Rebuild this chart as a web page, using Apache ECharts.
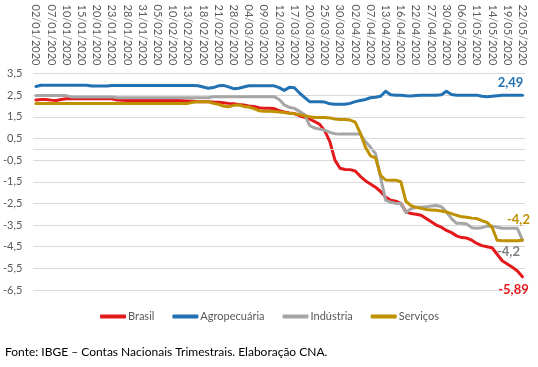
<!DOCTYPE html>
<html>
<head>
<meta charset="utf-8">
<script src="https://cdn.jsdelivr.net/npm/echarts@6/dist/echarts.min.js"></script>
<style>
html,body{margin:0;padding:0;background:#fff;}
#chart{width:538px;height:367px;}
</style>
</head>
<body>
<div id="chart"></div>
<script>
const categories = ['02/01/2020','03/01/2020','06/01/2020','07/01/2020','08/01/2020','09/01/2020','10/01/2020','13/01/2020','14/01/2020','15/01/2020','16/01/2020','17/01/2020','20/01/2020','21/01/2020','22/01/2020','23/01/2020','24/01/2020','27/01/2020','28/01/2020','29/01/2020','30/01/2020','31/01/2020',
'03/02/2020','04/02/2020','05/02/2020','06/02/2020','07/02/2020','10/02/2020','11/02/2020','12/02/2020','13/02/2020','14/02/2020','17/02/2020','18/02/2020','19/02/2020','20/02/2020','21/02/2020','26/02/2020','27/02/2020','28/02/2020',
'02/03/2020','03/03/2020','04/03/2020','05/03/2020','06/03/2020','09/03/2020','10/03/2020','11/03/2020','12/03/2020','13/03/2020','16/03/2020','17/03/2020','18/03/2020','19/03/2020','20/03/2020','23/03/2020','24/03/2020','25/03/2020','26/03/2020','27/03/2020','30/03/2020','31/03/2020',
'01/04/2020','02/04/2020','03/04/2020','06/04/2020','07/04/2020','08/04/2020','09/04/2020','13/04/2020','14/04/2020','15/04/2020','16/04/2020','17/04/2020','20/04/2020','22/04/2020','23/04/2020','24/04/2020','27/04/2020','28/04/2020','29/04/2020','30/04/2020',
'04/05/2020','05/05/2020','06/05/2020','07/05/2020','08/05/2020','11/05/2020','12/05/2020','13/05/2020','14/05/2020','15/05/2020','18/05/2020','19/05/2020','20/05/2020','21/05/2020','22/05/2020'];

const brasil = [2.28,2.3,2.3,2.27,2.25,2.3,2.33,2.33,2.33,2.33,
2.33,2.33,2.33,2.33,2.33,2.33,2.28,2.26,2.25,2.25,
2.25,2.25,2.25,2.25,2.25,2.25,2.25,2.25,2.25,2.24,
2.23,2.22,2.2,2.2,2.2,2.18,2.17,2.15,2.12,2.1,
2.07,2.05,2.0,1.98,1.92,1.9,1.9,1.88,1.78,1.72,
1.68,1.65,1.55,1.48,1.4,1.28,1.15,0.85,0.35,-0.5,
-0.88,-0.93,-0.94,-1.0,-1.25,-1.45,-1.6,-1.75,-1.95,-2.2,
-2.35,-2.4,-2.5,-2.88,-2.97,-3.0,-3.05,-3.2,-3.35,-3.5,
-3.6,-3.75,-3.85,-4.0,-4.08,-4.1,-4.2,-4.35,-4.45,-4.5,
-4.55,-4.85,-5.15,-5.3,-5.45,-5.62,-5.89];

const agro = [2.9,2.96,2.96,2.96,2.96,2.96,2.96,2.96,2.96,2.96,
2.96,2.92,2.92,2.92,2.92,2.95,2.95,2.95,2.95,2.95,
2.95,2.95,2.95,2.95,2.95,2.95,2.95,2.95,2.95,2.95,
2.95,2.95,2.93,2.88,2.82,2.85,2.93,2.95,2.88,2.8,
2.82,2.88,2.93,2.93,2.93,2.93,2.93,2.93,2.85,2.72,
2.86,2.84,2.6,2.4,2.2,2.2,2.2,2.18,2.1,2.08,
2.08,2.08,2.12,2.2,2.25,2.3,2.38,2.4,2.45,2.68,
2.52,2.5,2.5,2.47,2.46,2.48,2.5,2.5,2.5,2.5,
2.52,2.68,2.53,2.5,2.5,2.5,2.5,2.5,2.45,2.43,
2.45,2.47,2.49,2.49,2.49,2.49,2.49];

const industria = [2.48,2.48,2.48,2.48,2.48,2.48,2.48,2.42,2.42,2.42,
2.42,2.42,2.42,2.42,2.42,2.42,2.38,2.38,2.38,2.38,
2.38,2.38,2.38,2.38,2.38,2.38,2.38,2.38,2.38,2.38,
2.38,2.38,2.38,2.38,2.38,2.43,2.43,2.43,2.43,2.43,
2.43,2.43,2.43,2.43,2.43,2.43,2.43,2.43,2.3,2.05,
1.94,1.89,1.75,1.6,1.1,0.98,0.93,0.88,0.78,0.72,
0.7,0.7,0.7,0.7,0.7,0.36,0.1,-0.2,-1.3,-2.35,
-2.45,-2.5,-2.5,-2.92,-2.75,-2.68,-2.68,-2.66,-2.62,-2.6,
-2.65,-2.9,-3.2,-3.42,-3.42,-3.45,-3.62,-3.65,-3.62,-3.55,
-3.55,-3.6,-3.65,-3.65,-3.65,-3.65,-4.2];

const servicos = [2.12,2.12,2.12,2.12,2.12,2.12,2.12,2.12,2.12,2.12,
2.12,2.12,2.12,2.12,2.12,2.12,2.12,2.12,2.12,2.12,
2.12,2.12,2.12,2.12,2.12,2.12,2.12,2.12,2.12,2.12,
2.12,2.17,2.2,2.2,2.2,2.12,2.08,2.0,1.96,2.03,
2.05,1.98,1.95,1.88,1.78,1.76,1.76,1.75,1.72,1.7,
1.66,1.64,1.6,1.55,1.5,1.47,1.47,1.47,1.45,1.4,
1.38,1.38,1.35,1.25,0.75,0.1,-0.3,-0.4,-1.2,-1.42,
-1.43,-1.43,-1.5,-2.4,-2.6,-2.68,-2.73,-2.78,-2.8,-2.82,
-2.85,-2.9,-2.97,-3.05,-3.12,-3.14,-3.18,-3.2,-3.3,-3.38,
-3.6,-4.2,-4.22,-4.22,-4.22,-4.22,-4.2];

const seriesNames = ['Brasil','Agropecuária','Indústria','Serviços'];
const endLabels = ['-5,89','2,49','-4,2','-4,2'];
const yTicks = {min:-6.5, max:3.5, step:1};

const colors = ['#E3191C','#2271B3','#A6A6A6','#BF9000'];
const labelColors = ['#E3191C','#2271B3','#7F7F7F','#BF9000'];
const labelOffsets = [[-9,13],[-12,-13],[-14,12],[-4,-20]];
const FONT = 'Lato, "Open Sans", sans-serif';

const allData = [brasil, agro, industria, servicos];

const chart = echarts.init(document.getElementById('chart'), null, {renderer:'canvas'});
chart.setOption({
  animation:false,
  backgroundColor:'#fff',
  grid:{left:29, right:13, top:73.5, bottom:77, containLabel:false},
  xAxis:{
    type:'category',
    position:'top',
    data:categories,
    boundaryGap:true,
    axisLine:{show:false, onZero:false},
    axisTick:{show:false},
    splitLine:{show:false},
    axisLabel:{interval:2, rotate:90, color:'#595959', fontSize:11, fontFamily:FONT, margin:8}
  },
  yAxis:{
    type:'value',
    min:yTicks.min, max:yTicks.max, interval:yTicks.step,
    axisLine:{show:false},
    axisTick:{show:false},
    splitLine:{lineStyle:{color:'#D9D9D9', width:1}},
    axisLabel:{color:'#595959', fontSize:11, fontFamily:FONT, margin:11,
      formatter:v=>v.toFixed(1).replace('.',',')}
  },
  legend:{
    left:95, top:306,
    itemWidth:26, itemHeight:4, itemGap:18,
    icon:'roundRect',
    textStyle:{color:'#595959', fontSize:11, fontFamily:FONT, padding:[0,0,0,-3]},
    data:seriesNames
  },
  graphic:[{
    type:'text', left:5, top:346,
    style:{text:'Fonte: IBGE – Contas Nacionais Trimestrais. Elaboração CNA.', fill:'#000', fontSize:12, fontFamily:FONT}
  }],
  series: seriesNames.map((name,idx)=>({
    name:name,
    type:'line',
    data:allData[idx],
    showSymbol:false,
    smooth:false,
    color:colors[idx],
    lineStyle:{width:3, color:colors[idx], cap:'round', join:'round'},
    emphasis:{disabled:true},
    endLabel:{
      show:true, formatter:endLabels[idx], color:labelColors[idx],
      fontWeight:'bold', fontSize:13, fontFamily:FONT,
      distance:0, align:'center', verticalAlign:'middle',
      offset:labelOffsets[idx]
    },
    markLine: idx===0 ? {
      silent:true, symbol:'none', label:{show:false},
      lineStyle:{color:'#D9D9D9', width:1, type:'solid'},
      data:[{yAxis:0}]
    } : undefined,
    z: 2+idx
  }))
});
</script>
</body>
</html>
